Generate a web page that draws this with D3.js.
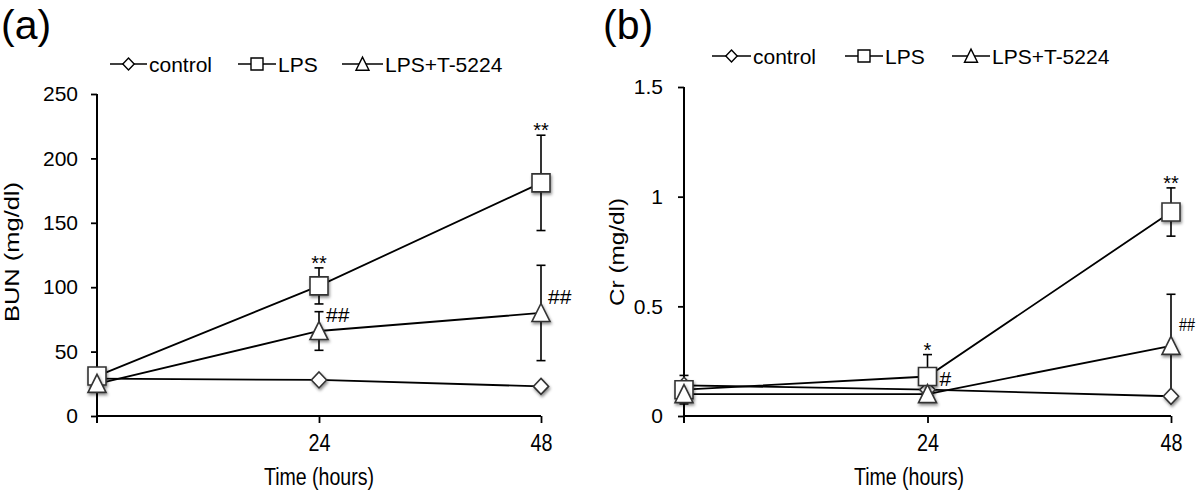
<!DOCTYPE html>
<html><head><meta charset="utf-8">
<script src="https://cdn.jsdelivr.net/npm/d3@7/dist/d3.min.js"></script>
<style>
body{margin:0;background:#fff;}
svg{display:block;font-family:"Liberation Sans",Arial,Helvetica,sans-serif;}
</style></head>
<body><svg id="c" width="1200" height="493"></svg>
<script>
// ---- data ----
const times = [0, 24, 48];
const xTickLabels = ["24", "48"];
const seriesNames = ["control", "LPS", "LPS+T-5224"];
const seriesShapes = ["diamond", "square", "triangle"];

const bunControl = [29, 28, 23];
const bunControlErr = [2, 2, 2];
const bunLPS = [31, 101, 181];
const bunLPSErr = [4, 14, 37];
const bunLPST = [25, 66, 80];
const bunLPSTErr = [3, 15, 37];
const bunTicks = [0, 50, 100, 150, 200, 250];

const crControl = [0.14, 0.12, 0.09];
const crControlErr = [0.02, 0.01, 0.01];
const crLPS = [0.12, 0.18, 0.93];
const crLPSErr = [0.065, 0.10, 0.11];
const crLPST = [0.10, 0.10, 0.32];
const crLPSTErr = [0.02, 0.01, 0.235];
const crTicks = [0, 0.5, 1, 1.5];
const crTickLabels = ["0", "0.5", "1", "1.5"];

// annotations: [series index, time index, text, kind]
const bunAnnot = [[1, 1, "**", "star"], [1, 2, "**", "star"], [2, 1, "##", "hash"], [2, 2, "##", "hash"]];
const crAnnot = [[1, 1, "*", "star"], [1, 2, "**", "star"], [1, 1, "#", "hashR"], [2, 2, "##", "hashR2"]];

const svg = d3.select("#c");
const defs = svg.append("defs");
const f = defs.append("filter").attr("id","sh").attr("x","-50%").attr("y","-50%").attr("width","200%").attr("height","200%");
f.append("feDropShadow").attr("dx",1).attr("dy",2).attr("stdDeviation",1.6).attr("flood-color","#000").attr("flood-opacity",0.45);

function shapePath(shape, s){
  const h = s/2;
  if(shape==="diamond") return `M0,${-h}L${h*0.95},0L0,${h}L${-h*0.95},0Z`;
  if(shape==="square") return `M${-h},${-h}H${h}V${h}H${-h}Z`;
  return `M0,${-h*1.05}L${h},${h*0.95}L${-h},${h*0.95}Z`;
}
const markerSize = {diamond:16, square:18, triangle:18};
const legendSize = {diamond:12, square:12, triangle:13};

function panel(cfg){
  const g = svg.append("g");
  const x = d3.scaleLinear().domain([0,48]).range(cfg.xr);
  const y = d3.scaleLinear().domain(cfg.yd).range(cfg.yr);
  // y axis
  const ya = d3.axisLeft(y).tickValues(cfg.ticks).tickSize(6).tickPadding(cfg.tpad).tickFormat((d,i)=>cfg.tickLabels[i]);
  const yg = g.append("g").attr("transform",`translate(${cfg.xr[0]},0)`).call(ya);
  yg.select(".domain").remove();
  yg.selectAll(".tick line").attr("stroke","#000").attr("stroke-width",1.8);
  yg.selectAll(".tick text").attr("font-size",21).attr("fill","#000").attr("font-family","Liberation Sans, Arial, sans-serif");
  g.append("line").attr("x1",cfg.xr[0]).attr("x2",cfg.xr[0]).attr("y1",cfg.yr[1]).attr("y2",cfg.yr[0]+7).attr("stroke","#000").attr("stroke-width",2);
  // x axis
  const xa = d3.axisBottom(x).tickValues([24,48]).tickSize(7).tickPadding(12).tickFormat((d,i)=>xTickLabels[i]);
  const xg = g.append("g").attr("transform",`translate(0,${cfg.yr[0]})`).call(xa);
  xg.select(".domain").remove();
  xg.selectAll(".tick line").attr("stroke","#000").attr("stroke-width",1.8);
  xg.selectAll(".tick text").attr("font-size",23).attr("fill","#000").attr("font-family","Liberation Sans, Arial, sans-serif")
    .attr("textLength",22).attr("lengthAdjust","spacingAndGlyphs");
  g.append("line").attr("x1",cfg.xr[0]).attr("x2",cfg.xr[1]).attr("y1",cfg.yr[0]).attr("y2",cfg.yr[0]).attr("stroke","#000").attr("stroke-width",2.2);
  // titles
  g.append("text").attr("x",cfg.xTitleX).attr("y",485).attr("text-anchor","middle").attr("font-size",23)
    .attr("textLength",110).attr("lengthAdjust","spacingAndGlyphs").text("Time (hours)");
  g.append("text").attr("transform",`translate(${cfg.yTitleX},${cfg.yTitleY}) rotate(-90)`).attr("text-anchor","middle").attr("font-size",21)
    .attr("textLength",cfg.yTitleLen).attr("lengthAdjust","spacingAndGlyphs").text(cfg.yTitle);
  g.append("text").attr("x",cfg.letterX).attr("y",39).attr("font-size",41).text(cfg.letter);
  // lines
  const line = d3.line().x((d,i)=>x(times[i])).y(d=>y(d));
  cfg.series.forEach(s=>{
    g.append("path").attr("d",line(s.v)).attr("fill","none").attr("stroke","#000").attr("stroke-width",1.8);
  });
  // error bars
  cfg.series.forEach(s=>{
    s.v.forEach((v,i)=>{
      const cx = x(times[i]), yt = y(v+s.e[i]), yb = y(Math.max(0,v-s.e[i]));
      g.append("line").attr("x1",cx).attr("x2",cx).attr("y1",yt).attr("y2",yb).attr("stroke","#000").attr("stroke-width",1.6);
      [yt,yb].forEach(yy=>g.append("line").attr("x1",cx-4.5).attr("x2",cx+4.5).attr("y1",yy).attr("y2",yy).attr("stroke","#000").attr("stroke-width",1.6));
    });
  });
  // markers
  cfg.series.forEach(s=>{
    s.v.forEach((v,i)=>{
      g.append("path").attr("d",shapePath(s.shape, markerSize[s.shape]))
        .attr("transform",`translate(${x(times[i])},${y(v)})`)
        .attr("fill","#fff").attr("stroke","#333").attr("stroke-width",1.6).attr("filter","url(#sh)");
    });
  });
  // annotations
  cfg.annot.forEach(a=>{
    const s = cfg.series[a[0]], i = a[1];
    const cx = x(times[i]);
    let tx, ty, fs, anchor, len = null;
    if(a[3]==="star"){ tx=cx; ty=y(s.v[i]+s.e[i])+2; fs=20; anchor="middle"; }
    else if(a[3]==="hash"){ tx=cx+7; ty=y(s.v[i])-9; fs=21; anchor="start"; }
    else if(a[3]==="hashR"){ tx=cx+12; ty=y(s.v[i])+9; fs=21; anchor="start"; }
    else { tx=cx+8; ty=y(s.v[i])-15; fs=19; anchor="start"; len=16; }
    const t = g.append("text").attr("x",tx).attr("y",ty).attr("text-anchor",anchor).attr("font-size",fs).text(a[2]);
    if(len) t.attr("textLength",len).attr("lengthAdjust","spacingAndGlyphs");
  });
  // legend
  cfg.legend.forEach((L,k)=>{
    const ly = cfg.legY;
    g.append("line").attr("x1",L[0]).attr("x2",L[1]).attr("y1",ly).attr("y2",ly).attr("stroke","#000").attr("stroke-width",1.6);
    const sh = seriesShapes[k];
    g.append("path").attr("d",shapePath(sh, legendSize[sh])).attr("transform",`translate(${(L[0]+L[1])/2},${ly})`)
      .attr("fill","#fff").attr("stroke","#000").attr("stroke-width",1.4);
    g.append("text").attr("x",L[1]+2).attr("y",ly+7.5).attr("font-size",21).text(seriesNames[k]);
  });
}

panel({
  xr:[97,541], yd:[0,250], yr:[416,94], ticks:bunTicks, tickLabels:bunTicks.map(String), tpad:13,
  xTitleX:319, yTitleX:19, yTitleY:252, yTitle:"BUN (mg/dl)", yTitleLen:140, letter:"(a)", letterX:1,
  series:[{v:bunControl,e:bunControlErr,shape:"diamond"},{v:bunLPS,e:bunLPSErr,shape:"square"},{v:bunLPST,e:bunLPSTErr,shape:"triangle"}],
  annot:bunAnnot, legY:64, legend:[[110,147],[238,276],[342,383]]
});
panel({
  xr:[684,1171], yd:[0,1.5], yr:[416,87], ticks:crTicks, tickLabels:crTickLabels, tpad:15,
  xTitleX:909, yTitleX:624, yTitleY:252, yTitle:"Cr (mg/dl)", yTitleLen:108, letter:"(b)", letterX:603,
  series:[{v:crControl,e:crControlErr,shape:"diamond"},{v:crLPS,e:crLPSErr,shape:"square"},{v:crLPST,e:crLPSTErr,shape:"triangle"}],
  annot:crAnnot, legY:56, legend:[[712,751],[845,883],[952,990]]
});
</script></body></html>
